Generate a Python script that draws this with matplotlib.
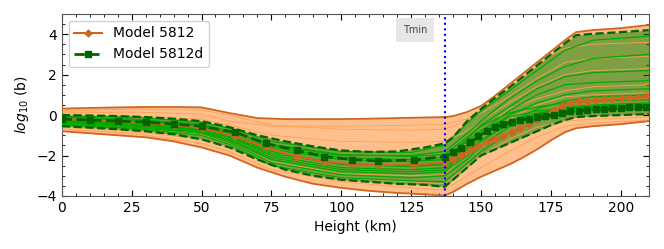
import matplotlib.pyplot as plt
from matplotlib.ticker import AutoMinorLocator

# grid for the mean curves (markers)
h_mean = [0, 10, 20, 30, 40, 50, 62, 73, 84, 94, 104, 113, 126, 137, 140, 143, 146,
          149, 152, 155, 158, 161, 164, 167, 170, 173, 176, 179, 182, 185, 188, 191,
          194, 197, 200, 203, 206, 209]
mean_5812 = [-0.2, -0.25, -0.33, -0.4, -0.5, -0.65, -1.05, -1.6, -2.05, -2.3, -2.42,
             -2.48, -2.45, -2.35, -2.15, -1.95, -1.75, -1.55, -1.35, -1.2, -1.02, -0.85,
             -0.65, -0.45, -0.25, -0.05, 0.25, 0.45, 0.6, 0.68, 0.72, 0.75, 0.78, 0.8,
             0.82, 0.85, 0.88, 0.92]
mean_5812d = [-0.2, -0.25, -0.3, -0.35, -0.45, -0.55, -0.85, -1.4, -1.75, -2.05, -2.2,
              -2.27, -2.22, -2.05, -1.85, -1.65, -1.35, -1.05, -0.8, -0.6, -0.45, -0.35,
              -0.25, -0.18, -0.12, -0.06, 0.0, 0.08, 0.18, 0.22, 0.25, 0.28, 0.3, 0.33,
              0.36, 0.38, 0.4, 0.42]

# envelopes
h_env = [0, 10, 20, 30, 40, 50, 60, 70, 80, 90, 100, 110, 120, 130, 137, 140, 145,
         150, 155, 160, 165, 170, 175, 180, 184, 190, 200, 210]
hi_5812 = [0.32, 0.35, 0.38, 0.4, 0.4, 0.38, 0.1, -0.15, -0.2, -0.2, -0.2, -0.18, -0.15,
           -0.12, -0.1, -0.05, 0.15, 0.45, 0.95, 1.5, 2.05, 2.6, 3.15, 3.7, 4.1, 4.2,
           4.3, 4.45]
lo_5812 = [-0.8, -0.9, -1.0, -1.1, -1.3, -1.6, -2.0, -2.6, -3.05, -3.4, -3.6, -3.75,
           -3.85, -3.92, -3.98, -3.8, -3.4, -3.05, -2.75, -2.45, -2.1, -1.7, -1.25,
           -0.85, -0.65, -0.55, -0.45, -0.3]
hi_5812d = [0.0, -0.02, -0.05, -0.1, -0.18, -0.3, -0.6, -1.0, -1.3, -1.55, -1.75, -1.82,
            -1.8, -1.6, -1.4, -1.1, -0.3, 0.3, 0.85, 1.35, 1.9, 2.45, 3.0, 3.55, 3.95,
            4.02, 4.1, 4.2]
lo_5812d = [-0.55, -0.62, -0.7, -0.8, -0.95, -1.2, -1.6, -2.2, -2.7, -3.0, -3.2, -3.3,
            -3.4, -3.45, -3.55, -3.2, -2.6, -2.0, -1.7, -1.4, -1.1, -0.8, -0.5, -0.25,
            -0.1, -0.05, 0.0, 0.05]

# individual members (thin lines)
h_thin = [0, 25, 50, 60, 75, 100, 125, 137, 145, 150, 160, 170, 180, 190, 210]
members_5812 = [
    [0.2, 0.3, 0.25, 0.0, -0.5, -0.7, -0.75, -0.7, -0.3, 0.3, 1.5, 2.6, 3.3, 3.5, 3.6],
    [0.1, 0.15, 0.05, -0.3, -0.55, -0.55, -0.5, -0.45, -0.2, 0.1, 0.9, 1.8, 2.6, 2.8, 2.9],
    [-0.6, -0.8, -1.2, -1.6, -2.5, -3.1, -3.3, -3.4, -2.5, -2.0, -1.2, -0.6, -0.3, -0.2, -0.1],
    [-0.7, -0.9, -1.4, -1.8, -2.7, -3.3, -3.6, -3.7, -3.0, -2.6, -1.8, -1.1, -0.55, -0.4, -0.25],
    [0.0, -0.05, -0.2, -0.5, -1.0, -1.3, -1.35, -1.3, -0.8, -0.3, 0.6, 1.4, 2.0, 2.2, 2.3],
    [-0.15, -0.3, -0.5, -0.85, -1.6, -2.1, -2.2, -2.1, -1.4, -0.8, 0.3, 0.8, 1.2, 1.4, 1.5],
    [-0.45, -0.6, -0.95, -1.4, -2.3, -2.9, -3.0, -2.95, -1.9, -1.2, -0.2, 0.5, 0.9, 1.0, 1.1],
]
members_5812d = [
    [-0.05, -0.1, -0.35, -0.65, -1.3, -1.8, -1.85, -1.5, -0.4, 0.2, 1.2, 2.2, 3.2, 3.7, 3.9],
    [-0.1, -0.2, -0.45, -0.8, -1.5, -2.0, -2.0, -1.8, -0.9, -0.3, 0.8, 1.7, 2.4, 2.8, 3.0],
    [-0.3, -0.4, -0.65, -1.0, -1.8, -2.4, -2.5, -2.4, -1.5, -0.8, 0.2, 1.0, 1.5, 1.6, 1.7],
    [-0.35, -0.45, -0.75, -1.1, -2.0, -2.6, -2.7, -2.6, -1.7, -1.0, 0.0, 0.6, 1.0, 1.2, 1.3],
    [-0.4, -0.55, -0.85, -1.25, -2.2, -2.8, -2.9, -2.8, -2.0, -1.3, -0.4, 0.3, 0.7, 0.9, 1.0],
    [-0.45, -0.6, -0.9, -1.35, -2.35, -2.95, -3.1, -3.0, -2.2, -1.5, -0.6, 0.0, 0.4, 0.5, 0.6],
    [-0.5, -0.65, -1.0, -1.45, -2.5, -3.1, -3.25, -3.3, -2.4, -1.8, -0.9, -0.3, 0.1, 0.25, 0.3],
    [-0.25, -0.35, -0.6, -0.95, -1.7, -2.2, -2.3, -2.2, -1.2, -0.5, 0.4, 1.3, 1.9, 2.1, 2.2],
    [-0.15, -0.25, -0.5, -0.8, -1.45, -1.95, -2.05, -1.95, -1.1, -0.55, 0.1, 0.4, 0.6, 0.7, 0.75],
    [-0.2, -0.3, -0.55, -0.9, -1.6, -2.1, -2.2, -2.1, -1.3, -0.75, -0.1, 0.2, 0.35, 0.45, 0.5],
    [-0.3, -0.4, -0.7, -1.05, -1.9, -2.45, -2.55, -2.45, -1.6, -1.0, -0.3, 0.1, 0.3, 0.4, 0.45],
    [-0.38, -0.5, -0.8, -1.2, -2.1, -2.7, -2.8, -2.7, -1.85, -1.2, -0.5, -0.05, 0.2, 0.3, 0.35],
]

t_min = 137

orange = "#d2651e"
green_dark = "#006400"

fig = plt.figure(figsize=(6.64, 2.49), dpi=100)
ax = fig.add_axes([0.093, 0.213, 0.884, 0.731])

# filled envelopes
ax.fill_between(h_env, lo_5812, hi_5812, color="#ffbf8c", lw=0, zorder=1)
ax.fill_between(h_env, lo_5812d, hi_5812d, color="green", alpha=0.5, lw=0, zorder=2)

# members
for m in members_5812:
    ax.plot(h_thin, m, color="#ffa050", lw=0.6, zorder=3)
for m in members_5812d:
    ax.plot(h_thin, m, color="#00aa00", lw=0.9, zorder=4)

# bounds
ax.plot(h_env, hi_5812, color=orange, lw=1.3, zorder=5)
ax.plot(h_env, lo_5812, color=orange, lw=1.3, zorder=5)
ax.plot(h_env, hi_5812d, color=green_dark, lw=1.6, ls="--", zorder=6)
ax.plot(h_env, lo_5812d, color=green_dark, lw=1.6, ls="--", zorder=6)

# means
ax.plot(h_mean, mean_5812, color=orange, lw=1.5, marker="D", ms=3.5,
        label="Model 5812", zorder=7)
ax.plot(h_mean, mean_5812d, color=green_dark, lw=2, ls="--", marker="s", ms=4,
        label="Model 5812d", zorder=8)

ax.axvline(t_min, color="blue", ls=":", lw=1.5, zorder=9)
ax.text(126.5, 4.2, "Tmin", fontsize=7, color="#444444", ha="center", va="center",
        bbox=dict(boxstyle="square,pad=0.7", fc="#e6e6e6", ec="none"))

ax.set_xlim(0, 210)
ax.set_ylim(-4, 5)
ax.set_xticks([0, 25, 50, 75, 100, 125, 150, 175, 200])
ax.set_yticks([-4, -2, 0, 2, 4])
ax.xaxis.set_minor_locator(AutoMinorLocator(5))
ax.yaxis.set_minor_locator(AutoMinorLocator(4))
ax.tick_params(which="both", direction="in", top=True, right=True, labelsize=10)
ax.tick_params(which="major", length=4)
ax.tick_params(which="minor", length=2)
for s in ax.spines.values():
    s.set_color("#555555")

ax.set_xlabel("Height (km)", fontsize=10)
ax.set_ylabel("$log_{10}$ (b)", fontsize=10)
ax.legend(loc="upper left", fontsize=10, framealpha=0.9)

fig.savefig("out.png", dpi=100)
